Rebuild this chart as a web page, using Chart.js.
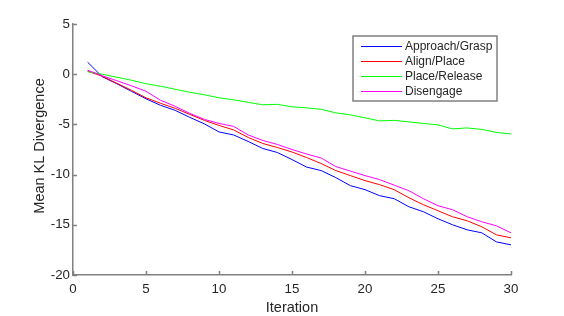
<!DOCTYPE html>
<html>
<head>
<meta charset="utf-8">
<script src="https://cdn.jsdelivr.net/npm/chart.js@4.4.1/dist/chart.umd.min.js"></script>
<style>
  html, body { margin: 0; padding: 0; background: #fff; }
  canvas { display: block; }
</style>
</head>
<body>
<canvas id="klChart" width="564" height="316"></canvas>
<script>
// values
const iterations = [1, 2, 3, 4, 5, 6, 7, 8, 9, 10, 11, 12, 13, 14, 15,
                    16, 17, 18, 19, 20, 21, 22, 23, 24, 25, 26, 27, 28, 29, 30];
const approachGrasp = [1.2, -0.25, -0.95, -1.7, -2.45, -3.1, -3.6, -4.3, -4.95, -5.75,
                       -6.05, -6.7, -7.4, -7.8, -8.5, -9.25, -9.6, -10.3, -11.1, -11.5,
                       -12.1, -12.4, -13.2, -13.7, -14.4, -15.0, -15.5, -15.8, -16.7, -17.0];
const alignPlace = [0.3, -0.2, -0.9, -1.6, -2.35, -2.9, -3.4, -4.0, -4.6, -5.1,
                    -5.55, -6.3, -6.9, -7.3, -7.75, -8.3, -8.9, -9.6, -10.1, -10.6,
                    -11.0, -11.5, -12.3, -13.0, -13.6, -14.2, -14.6, -15.2, -16.0, -16.3];
const placeRelease = [0.25, 0.0, -0.3, -0.6, -0.95, -1.2, -1.5, -1.8, -2.05, -2.35,
                      -2.55, -2.8, -3.05, -3.0, -3.25, -3.35, -3.5, -3.85, -4.05, -4.35,
                      -4.65, -4.6, -4.75, -4.9, -5.05, -5.45, -5.35, -5.5, -5.8, -5.95];
const disengage = [0.4, -0.15, -0.65, -1.15, -1.7, -2.6, -3.2, -3.9, -4.5, -4.9,
                   -5.2, -6.05, -6.6, -7.0, -7.5, -7.95, -8.35, -9.2, -9.65, -10.1,
                   -10.5, -11.05, -11.6, -12.4, -13.1, -13.5, -14.2, -14.7, -15.1, -15.8];
const seriesNames = ['Approach/Grasp', 'Align/Place', 'Place/Release', 'Disengage'];
const seriesColors = ['#0000ff', '#ff0000', '#00ff00', '#ff00ff'];
const xTicks = [0, 5, 10, 15, 20, 25, 30];
const yTicks = [-20, -15, -10, -5, 0, 5];
const xTitle = 'Iteration';
const yTitle = 'Mean KL Divergence';

const FONT = '"Liberation Sans", Arial, Helvetica, sans-serif';
const TEXT_COLOR = '#262626';
const AXIS_COLOR = '#808080';

function toPoints(values) {
    return iterations.map((x, i) => ({ x: x, y: values[i] }));
}

const allSeries = [approachGrasp, alignPlace, placeRelease, disengage];
const datasets = allSeries.map((values, i) => ({
    label: seriesNames[i],
    data: toPoints(values),
    borderColor: seriesColors[i],
    backgroundColor: seriesColors[i],
    borderWidth: 1,
    pointRadius: 0,
    tension: 0,
    fill: false,
    order: allSeries.length - i  // later series drawn on top, like matlab
}));

// inward tick marks, axis titles and the boxed legend
const matlabLook = {
    id: 'matlabLook',
    afterDraw(chart) {
        const ctx = chart.ctx;
        const xs = chart.scales.x;
        const ys = chart.scales.y;
        const area = chart.chartArea;

        ctx.save();
        ctx.strokeStyle = AXIS_COLOR;
        ctx.lineWidth = 1.5;
        ctx.beginPath();
        xTicks.forEach(v => {
            const px = Math.round(xs.getPixelForValue(v)) + 0.5;
            ctx.moveTo(px, area.bottom);
            ctx.lineTo(px, area.bottom - 4);
        });
        yTicks.forEach(v => {
            const py = Math.round(ys.getPixelForValue(v)) + 0.5;
            ctx.moveTo(area.left, py);
            ctx.lineTo(area.left + 4, py);
        });
        ctx.stroke();

        // axis titles
        ctx.fillStyle = TEXT_COLOR;
        ctx.font = '14.5px ' + FONT;
        ctx.textAlign = 'center';
        ctx.textBaseline = 'alphabetic';
        ctx.fillText(xTitle, (area.left + area.right) / 2, 311.5);

        ctx.save();
        ctx.translate(44, 146);
        ctx.rotate(-Math.PI / 2);
        ctx.fillText(yTitle, 0, 0);
        ctx.restore();

        // legend
        const box = { left: 353, top: 36, width: 144, height: 65 };
        ctx.fillStyle = '#ffffff';
        ctx.fillRect(box.left, box.top, box.width, box.height);
        ctx.strokeStyle = AXIS_COLOR;
        ctx.lineWidth = 1.5;
        ctx.strokeRect(box.left, box.top, box.width, box.height);

        ctx.font = '12px ' + FONT;
        ctx.textAlign = 'left';
        ctx.textBaseline = 'middle';
        seriesNames.forEach((name, i) => {
            const rowY = 46.5 + i * 15;
            ctx.strokeStyle = seriesColors[i];
            ctx.lineWidth = 1;
            ctx.beginPath();
            ctx.moveTo(361, rowY);
            ctx.lineTo(402, rowY);
            ctx.stroke();
            ctx.fillStyle = TEXT_COLOR;
            ctx.fillText(name, 405, rowY + 0.5);
        });
        ctx.restore();
    }
};

const ctx = document.getElementById('klChart').getContext('2d');
const klChart = new Chart(ctx, {
    type: 'line',
    data: { datasets: datasets },
    options: {
        responsive: false,
        animation: false,
        devicePixelRatio: 1,
        layout: { padding: { left: 0, top: 24, right: 53, bottom: 0 } },
        plugins: {
            legend: { display: false },
            tooltip: { enabled: false }
        },
        scales: {
            x: {
                type: 'linear',
                min: 0,
                max: 30,
                afterBuildTicks: scale => { scale.ticks = xTicks.map(v => ({ value: v })); },
                afterFit: scale => { scale.height = 41; },
                grid: { display: false, drawTicks: false },
                border: { display: true, color: AXIS_COLOR, width: 1.5 },
                ticks: {
                    padding: 6,
                    color: TEXT_COLOR,
                    font: { family: FONT, size: 13.3 },
                    maxRotation: 0
                }
            },
            y: {
                type: 'linear',
                min: -20,
                max: 5,
                afterBuildTicks: scale => { scale.ticks = yTicks.map(v => ({ value: v })); },
                afterFit: scale => { scale.width = 73; },
                grid: { display: false, drawTicks: false },
                border: { display: true, color: AXIS_COLOR, width: 1.5 },
                ticks: {
                    padding: 3,
                    color: TEXT_COLOR,
                    font: { family: FONT, size: 13.3 }
                }
            }
        }
    },
    plugins: [matlabLook]
});
</script>
</body>
</html>
